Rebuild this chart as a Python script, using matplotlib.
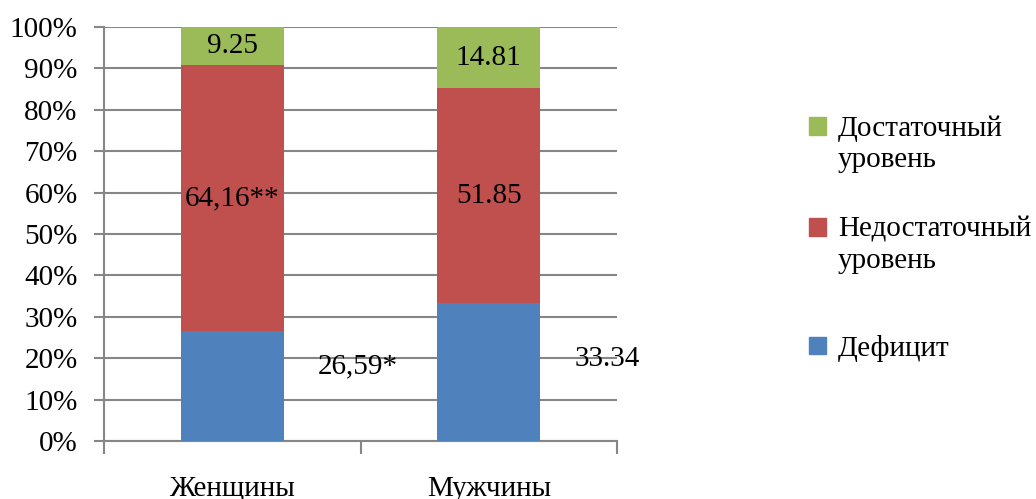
import matplotlib
matplotlib.use('Agg')
import matplotlib.pyplot as plt
from matplotlib.patches import Rectangle
import numpy as np

plt.rcParams['font.family'] = ['Liberation Serif', 'DejaVu Serif']

# данные
groups = ['Женщины', 'Мужчины']
deficit = [26.59, 33.34]
insufficient = [64.16, 51.85]
sufficient = [9.25, 14.81]

deficit_labels = ['26,59*', '33.34']
insufficient_labels = ['64,16**', '51.85']
sufficient_labels = ['9.25', '14.81']

legend_names = ['Достаточный\nуровень', 'Недостаточный\nуровень', 'Дефицит']

c_blue = '#4F81BD'
c_red = '#C0504D'
c_green = '#9BBB59'
grid_c = '#868686'
fs = 21

fig = plt.figure(figsize=(10.36, 4.99), dpi=100)
ax = fig.add_axes([0.1004, 0.1162, 0.4952, 0.8297])

x = np.arange(len(groups))
w = 0.4
d = np.array(deficit)
n = np.array(insufficient)
s = np.array(sufficient)

ax.bar(x, d, w, color=c_blue, zorder=3)
ax.bar(x, n, w, bottom=d, color=c_red, zorder=3)
ax.bar(x, s, w, bottom=d + n, color=c_green, zorder=3)

# подписи
for i in range(len(groups)):
    ax.text(x[i], d[i] + n[i] / 2, insufficient_labels[i], ha='center', va='center', fontsize=fs, zorder=4)
    ax.text(x[i], d[i] + n[i] + s[i] / 2, sufficient_labels[i], ha='center', va='center', fontsize=fs, zorder=4)

# подписи дефицита сдвинуты вправо от столбцов (как в исходнике)
lab_dx = [0.49, 0.46]
lab_y = [18.0, 19.8]
for i in range(len(groups)):
    ax.text(x[i] + lab_dx[i], lab_y[i], deficit_labels[i], ha='center', va='center', fontsize=fs, zorder=4)

ax.set_xlim(-0.5, 1.5)
ax.set_ylim(0, 100)
ax.set_yticks(np.arange(0, 101, 10))
ax.set_yticklabels([f'{v}%' for v in range(0, 101, 10)], fontsize=fs)
ax.set_xticks(x)
ax.set_xticklabels(groups, fontsize=fs)
ax.set_xticks([-0.5, 0.5, 1.5], minor=True)

ax.tick_params(axis='x', which='major', length=0, pad=25)
ax.tick_params(axis='x', which='minor', length=9, width=1.5, color=grid_c)
ax.tick_params(axis='y', length=7, width=1.5, color=grid_c, pad=12)

ax.yaxis.grid(True, color=grid_c, linewidth=1.5, zorder=0)
ax.set_axisbelow(True)
for sp in ['top', 'right']:
    ax.spines[sp].set_visible(False)
for sp in ['left', 'bottom']:
    ax.spines[sp].set_color(grid_c)
    ax.spines[sp].set_linewidth(1.5)

# легенда вручную
W, H = 1036, 499
leg_colors = [c_green, c_red, c_blue]
sq_y = [126, 227, 345]
for name, col, yc in zip(legend_names, leg_colors, sq_y):
    fig.patches.append(Rectangle((809 / W, (H - yc - 8.5) / H), 17 / W, 17 / H,
                                 transform=fig.transFigure, color=col))
    lines = name.split('\n')
    for k, line in enumerate(lines):
        fig.text(838 / W, (H - yc - 31 * k) / H, line, fontsize=fs, ha='left', va='center_baseline')

fig.savefig('out.png', dpi=100)
